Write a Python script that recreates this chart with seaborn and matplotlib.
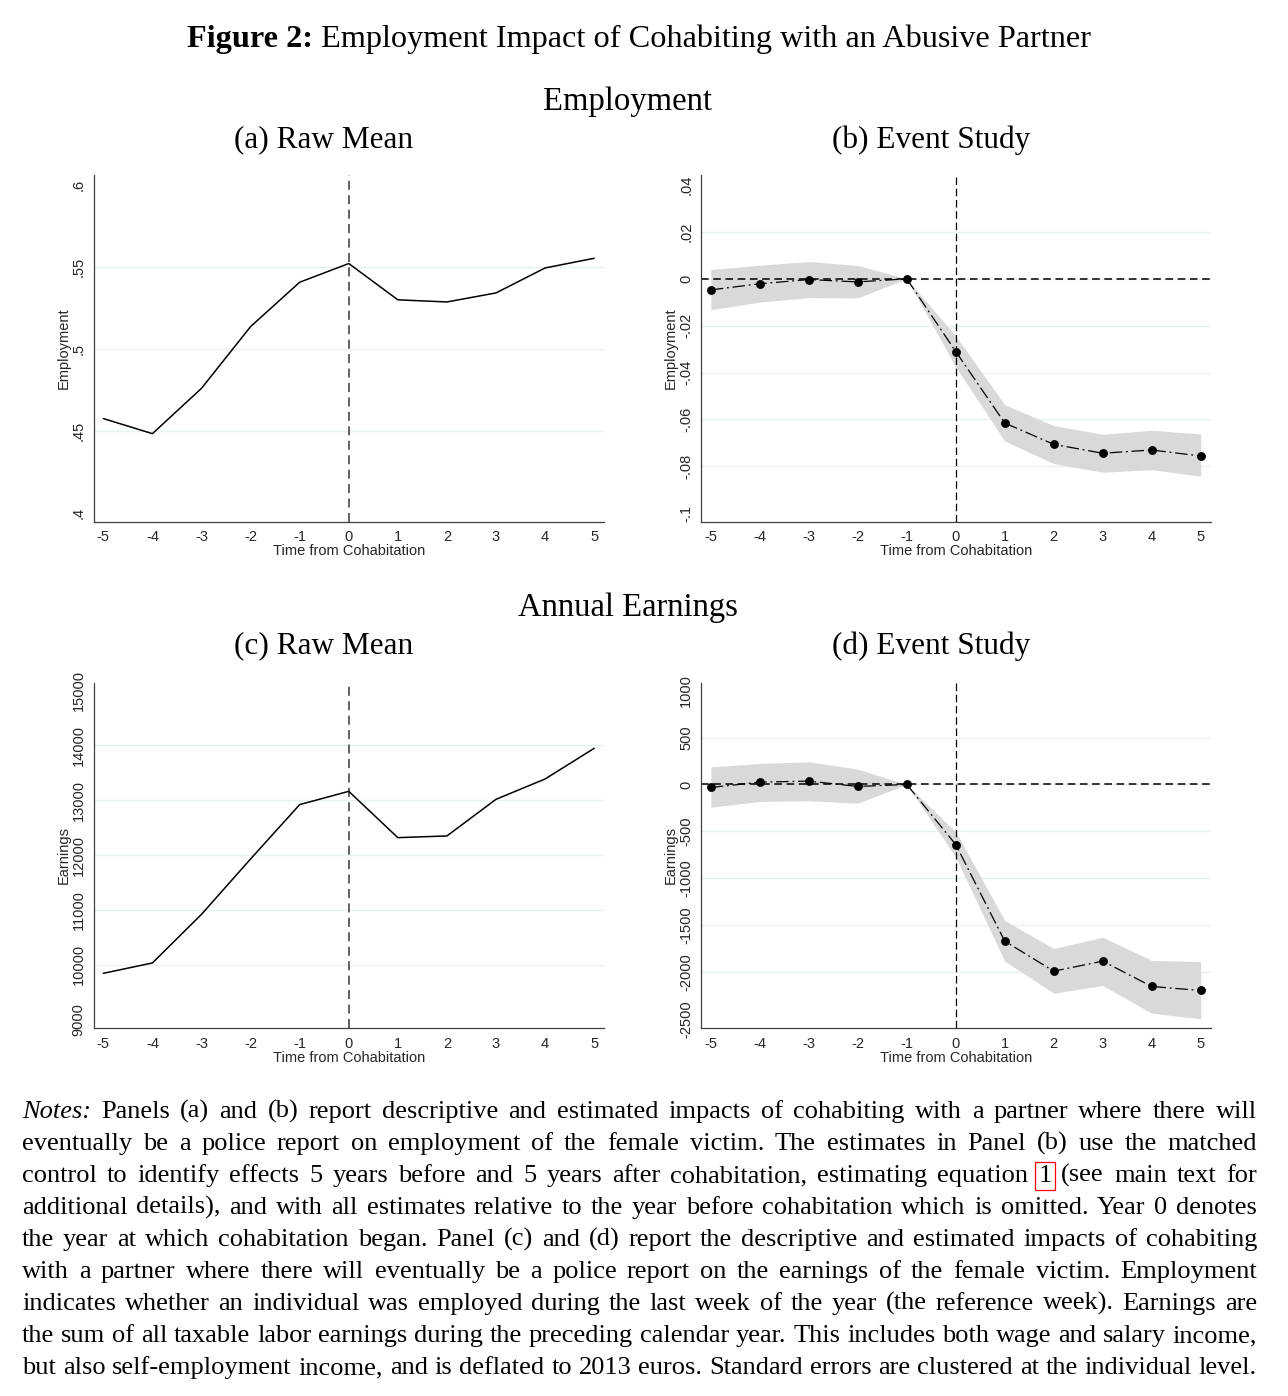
import matplotlib
matplotlib.use("Agg")
import matplotlib.pyplot as plt
import seaborn as sns

years = [-5, -4, -3, -2, -1, 0, 1, 2, 3, 4, 5]

# panel (a): employment, raw mean
emp_raw = [0.4577, 0.4485, 0.4761, 0.5137, 0.5407, 0.5521, 0.5300, 0.5287, 0.5342, 0.5494, 0.5553]
# panel (b): employment, event study
emp_coef = [-0.0047, -0.0021, -0.0003, -0.0013, 0.0, -0.0310, -0.0615, -0.0706, -0.0744, -0.0730, -0.0756]
emp_hi = [0.0040, 0.0058, 0.0074, 0.0057, 0.0, -0.0244, -0.0537, -0.0626, -0.0663, -0.0646, -0.0662]
emp_lo = [-0.0132, -0.0099, -0.0080, -0.0081, 0.0, -0.0376, -0.0692, -0.0788, -0.0825, -0.0814, -0.0842]
# panel (c): earnings, raw mean
earn_raw = [9840, 10029, 10917, 11928, 12920, 13163, 12317, 12348, 13017, 13388, 13948]
# panel (d): earnings, event study
earn_coef = [-32, 25, 36, -21, 0, -640, -1670, -1990, -1883, -2153, -2196]
earn_hi = [188, 224, 242, 163, 0, -505, -1450, -1748, -1628, -1876, -1887]
earn_lo = [-242, -181, -174, -199, 0, -775, -1883, -2225, -2143, -2438, -2498]

emp_raw_ticks = [0.4, 0.45, 0.5, 0.55, 0.6]
emp_raw_labels = [".4", ".45", ".5", ".55", ".6"]
emp_es_ticks = [-0.1, -0.08, -0.06, -0.04, -0.02, 0, 0.02, 0.04]
emp_es_labels = ["-.1", "-.08", "-.06", "-.04", "-.02", "0", ".02", ".04"]
earn_raw_ticks = [9000, 10000, 11000, 12000, 13000, 14000, 15000]
earn_es_ticks = [-2500, -2000, -1500, -1000, -500, 0, 500, 1000]

notes = [
    "Notes: Panels (a) and (b) report descriptive and estimated impacts of cohabiting with a partner where there will",
    "eventually be a police report on employment of the female victim.  The estimates in Panel (b) use the matched",
    "control to identify effects 5 years before and 5 years after cohabitation, estimating equation 1 (see main text for",
    "additional details), and with all estimates relative to the year before cohabitation which is omitted. Year 0 denotes",
    "the year at which cohabitation began. Panel (c) and (d) report the descriptive and estimated impacts of cohabiting",
    "with a partner where there will eventually be a police report on the earnings of the female victim.  Employment",
    "indicates whether an individual was employed during the last week of the year (the reference week). Earnings are",
    "the sum of all taxable labor earnings during the preceding calendar year. This includes both wage and salary income,",
    "but also self-employment income, and is deflated to 2013 euros. Standard errors are clustered at the individual level.",
]

W, H = 1288, 1396
sns.set_style("white")
plt.rcParams["font.family"] = ["Liberation Sans", "DejaVu Sans"]
SERIF = ["Liberation Serif", "DejaVu Serif"]
GRID = "#e8f0f2"
BAND = "#d9d9d9"
AXC = "#404040"

fig = plt.figure(figsize=(W / 100, H / 100), dpi=100)


def px_axes(left, top, right, bottom):
    return fig.add_axes([left / W, 1 - bottom / H, (right - left) / W, (bottom - top) / H])


def style_axis(ax, ylim, ticks, labels, ylabel):
    ax.set_xlim(-5.19, 5.2)
    ax.set_ylim(*ylim)
    ax.set_xticks(years)
    ax.set_xticklabels([str(y) for y in years], fontsize=10.5)
    ax.set_yticks(ticks)
    ax.set_yticklabels(labels, fontsize=10.5, rotation=90, va="center")
    for t in ticks[1:-1]:
        ax.axhline(t, color=GRID, lw=1, zorder=0)
    sns.despine(ax=ax)
    for s in ["left", "bottom"]:
        ax.spines[s].set_color(AXC)
        ax.spines[s].set_linewidth(0.9)
    ax.tick_params(direction="out", length=4, width=0.8, color=AXC, pad=2)
    ax.set_xlabel("Time from Cohabitation", fontsize=10.5, labelpad=0)
    ax.set_ylabel(ylabel, fontsize=10.5, labelpad=1)


def raw_panel(ax, values):
    sns.lineplot(x=years, y=values, ax=ax, color="black", lw=1.1, zorder=3)
    ax.axvline(0, color="#555555", lw=1.3, ls=(0, (5, 3)), zorder=2)


def es_panel(ax, coef, lo, hi):
    ax.fill_between(years, lo, hi, color=BAND, lw=0, zorder=1)
    ax.axhline(0, color="black", lw=1.1, ls=(0, (5, 3)), zorder=2)
    ax.axvline(0, color="black", lw=0.9, ls=(0, (6, 3)), zorder=2)
    sns.lineplot(x=years, y=coef, ax=ax, color="black", lw=0.9, zorder=3,
                 linestyle=(0, (10, 3, 1.5, 3)))
    sns.scatterplot(x=years, y=coef, ax=ax, color="black", s=34, edgecolor="black",
                    linewidth=0.5, zorder=4)


ax_a = px_axes(94, 175, 604, 521.7)
raw_panel(ax_a, emp_raw)
style_axis(ax_a, (0.3949, 0.606), emp_raw_ticks, emp_raw_labels, "Employment")

ax_b = px_axes(701.5, 175, 1210.5, 521.7)
es_panel(ax_b, emp_coef, emp_lo, emp_hi)
style_axis(ax_b, (-0.1036, 0.0443), emp_es_ticks, emp_es_labels, "Employment")

ax_c = px_axes(94, 682.7, 604, 1028.3)
raw_panel(ax_c, earn_raw)
style_axis(ax_c, (8836, 15146), earn_raw_ticks, [str(t) for t in earn_raw_ticks], "Earnings")

ax_d = px_axes(701.5, 682.7, 1210.5, 1028.3)
es_panel(ax_d, earn_coef, earn_lo, earn_hi)
style_axis(ax_d, (-2599, 1085), earn_es_ticks, [str(t) for t in earn_es_ticks], "Earnings")

# headings
fig.canvas.draw()
r = fig.canvas.get_renderer()


def width_of(t):
    return t.get_window_extent(r).width


title_size = 23.2
t1 = fig.text(0, 1 - 47 / H, "Figure 2:", fontsize=title_size, family=SERIF, weight="bold",
              va="baseline", color="black")
t2 = fig.text(0, 1 - 47 / H, " Employment Impact of Cohabiting with an Abusive Partner",
              fontsize=title_size, family=SERIF, va="baseline", color="black")
w1, w2 = width_of(t1), width_of(t2)
x0 = 639 - (w1 + w2) / 2
t1.set_x(x0 / W)
t2.set_x((x0 + w1) / W)

heads = [("Employment", 628, 102, 23.5), ("(a) Raw Mean", 324, 140, 22.5),
         ("(b) Event Study", 931, 140, 22.5), ("Annual Earnings", 628, 608, 23.5),
         ("(c) Raw Mean", 324, 646, 22.5), ("(d) Event Study", 931, 646, 22.5)]
for txt, x, y, sz in heads:
    fig.text(x / W, 1 - y / H, txt, fontsize=sz, family=SERIF, ha="center", va="center",
             color="black")

# justified notes paragraph; font size chosen so the widest line just fits
left, right = 22, 1257
probe = [fig.text(0, 0, line, fontsize=20, family=SERIF) for line in notes]
widest = max(width_of(p) for p in probe)
for p in probe:
    p.remove()
note_size = 20 * (right - left) * 0.995 / widest

for i, line in enumerate(notes):
    base = 1118 + 32 * i
    words = line.split()
    arts = []
    for j, w in enumerate(words):
        style = "italic" if (i == 0 and j == 0) else "normal"
        kw = {}
        if i == 2 and w == "1":
            kw["bbox"] = dict(boxstyle="square,pad=0.12", fc="none", ec="red", lw=0.9)
        arts.append(fig.text(0, 1 - base / H, w, fontsize=note_size, family=SERIF,
                             style=style, va="baseline", color="black", **kw))
    widths = [width_of(a) for a in arts]
    gap = (right - left - sum(widths)) / (len(arts) - 1)
    x = left
    for a, wd in zip(arts, widths):
        a.set_x(x / W)
        x += wd + gap

fig.savefig("out.png", dpi=100, facecolor="white")
